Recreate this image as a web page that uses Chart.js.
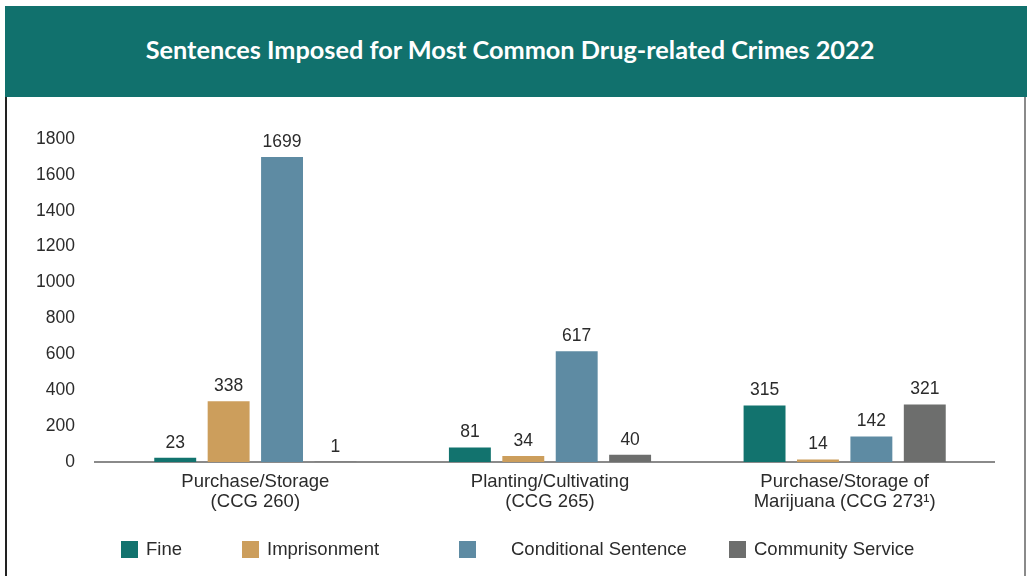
<!DOCTYPE html>
<html>
<head>
<meta charset="utf-8">
<script src="https://cdn.jsdelivr.net/npm/chart.js@4.4.1/dist/chart.umd.min.js"></script>
<style>
  html, body { margin: 0; padding: 0; background: #fff; }
  #wrap { position: relative; width: 1027px; height: 576px; overflow: hidden; }
  #chart { position: absolute; left: 0; top: 0; }
  #banner {
    position: absolute; left: 5px; top: 6px; width: 1022px; height: 91px;
    background: #11716d; color: #fff; display: flex; align-items: center; justify-content: center;
    font-family: Lato, 'Open Sans', sans-serif; font-weight: 700; font-size: 25.3px;
    box-sizing: border-box; padding-right: 12px; padding-bottom: 5px; z-index: 2;
  }
  #leftBorder { position: absolute; left: 5px; top: 97px; width: 2px; height: 480px; background: #222; }
  #rightBorder { position: absolute; left: 1024px; top: 97px; width: 2px; height: 480px; background: #8a8a8a; }
  #legend { position: absolute; left: 0; top: 538px; width: 1027px; height: 20px;
    font-family: 'Liberation Sans', Arial, sans-serif; font-size: 18.5px; color: #2b2b2b; }
  .item { position: absolute; top: 0; display: flex; align-items: center; white-space: nowrap; }
  .box { width: 17px; height: 17px; display: inline-block; }
</style>
</head>
<body>
<div id="wrap">
  <canvas id="chart" width="1027" height="576"></canvas>
  <div id="banner">Sentences Imposed for Most Common Drug-related Crimes 2022</div>
  <div id="leftBorder"></div>
  <div id="rightBorder"></div>
  <div id="legend"></div>
</div>
<script>
// --- data ---
const categories = [
  ['Purchase/Storage', '(CCG 260)'],
  ['Planting/Cultivating', '(CCG 265)'],
  ['Purchase/Storage of', 'Marijuana (CCG 273\u00B9)']
];
const seriesNames = ['Fine', 'Imprisonment', 'Conditional Sentence', 'Community Service'];
const fine = [23, 81, 315];
const imprisonment = [338, 34, 14];
const conditional = [1699, 617, 142];
const community = [1, 40, 321];
const yMax = 1800;
const yStep = 200;

const colors = ['#12736e', '#cc9e5c', '#5e8ba3', '#6d6e6d'];
const legendLeft = [121, 242, 459, 729];
const legendGap = [8, 8, 35, 8];

Chart.defaults.font.family = "'Liberation Sans', Arial, sans-serif";
Chart.defaults.color = '#2b2b2b';

// value labels above bars
const valueLabels = {
  id: 'valueLabels',
  afterDatasetsDraw(chart) {
    const ctx = chart.ctx;
    ctx.save();
    ctx.font = "17.5px 'Liberation Sans', Arial, sans-serif";
    ctx.fillStyle = '#2b2b2b';
    ctx.textAlign = 'center';
    ctx.textBaseline = 'middle';
    chart.data.datasets.forEach((ds, i) => {
      chart.getDatasetMeta(i).data.forEach((bar, j) => {
        ctx.fillText(String(ds.data[j]), bar.x, bar.y - 15);
      });
    });
    ctx.restore();
  }
};

// baseline, a bit wider than the plot area
const baseLine = {
  id: 'baseLine',
  beforeDatasetsDraw(chart) {
    const ctx = chart.ctx, area = chart.chartArea;
    const y = chart.scales.y.getPixelForValue(0);
    ctx.save();
    ctx.strokeStyle = '#8a8a8a';
    ctx.lineWidth = 2;
    ctx.beginPath();
    ctx.moveTo(area.left - 14, y);
    ctx.lineTo(area.right + 3, y);
    ctx.stroke();
    ctx.restore();
  }
};

const allSeries = [fine, imprisonment, conditional, community];

new Chart(document.getElementById('chart'), {
  type: 'bar',
  data: {
    labels: categories,
    datasets: allSeries.map((d, i) => ({
      label: seriesNames[i],
      data: d,
      backgroundColor: colors[i],
      categoryPercentage: 0.725,
      barPercentage: 0.785
    }))
  },
  options: {
    responsive: false,
    animation: false,
    layout: { padding: { left: 0, right: 35, top: 139, bottom: 54 } },
    plugins: { legend: { display: false }, tooltip: { enabled: false } },
    scales: {
      x: {
        grid: { display: false, drawTicks: false },
        border: { display: false },
        ticks: { padding: 10, font: { size: 18.5, lineHeight: 1.08 }, color: '#2b2b2b', maxRotation: 0 },
        afterFit(scale) { scale.height = 60; }
      },
      y: {
        min: 0, max: yMax,
        grid: { display: false, drawTicks: false },
        border: { display: false },
        ticks: {
          stepSize: yStep, padding: 33, font: { size: 17.5 }, color: '#2b2b2b',
          callback: (v) => String(v)
        },
        afterFit(scale) { scale.width = 108; }
      }
    }
  },
  plugins: [baseLine, valueLabels]
});

// legend
const legend = document.getElementById('legend');
seriesNames.forEach((name, i) => {
  const item = document.createElement('div');
  item.className = 'item';
  item.style.left = legendLeft[i] + 'px';
  item.innerHTML = '<span class="box" style="background:' + colors[i] + ';margin-right:' + legendGap[i] + 'px"></span>' + name;
  legend.appendChild(item);
});
</script>
</body>
</html>
